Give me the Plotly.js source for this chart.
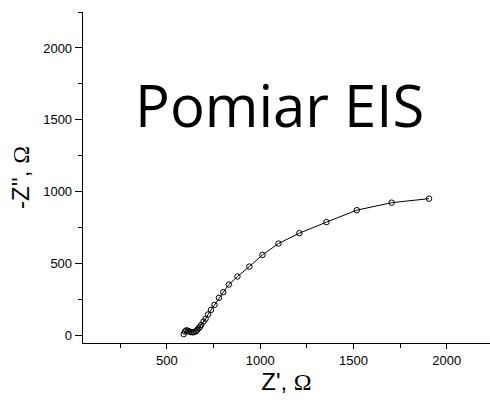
<!DOCTYPE html>
<html>
<head>
<meta charset="utf-8">
<script src="https://cdn.plot.ly/plotly-3.0.1.min.js"></script>
<style>html,body{margin:0;padding:0;background:#fff;}#chart{width:490px;height:405px;}</style>
</head>
<body>
<div id="chart"></div>
<script>
const zReal = [590, 597, 604, 612, 620, 628, 637, 646, 655, 663, 670, 677, 684, 696, 707, 720, 736, 755, 779, 802, 832, 878, 942, 1012, 1098, 1210, 1355, 1518, 1705, 1905];
const zImagNeg = [12, 30, 38, 35, 30, 26, 24, 26, 32, 42, 52, 63, 76, 99, 118, 148, 180, 215, 264, 303, 356, 412, 481, 562, 641, 713, 790, 873, 925, 953];
const xTickVals = [500, 1000, 1500, 2000];
const yTickVals = [0, 500, 1000, 1500, 2000];
const chartTitle = "Pomiar EIS";
const xTitle = "Z', <span style=\"font-family:'Liberation Serif','Times New Roman',serif\">Ω</span>";
const yTitle = "-Z'', <span style=\"font-family:'Liberation Serif','Times New Roman',serif\">Ω</span>";

const trace = {
  x: zReal, y: zImagNeg, type: 'scatter', mode: 'lines+markers',
  line: {color: '#000', width: 1},
  marker: {symbol: 'circle-open', size: 5.5, color: '#000', line: {width: 1, color: '#000'}},
  hoverinfo: 'none', showlegend: false
};

const axisFont = {family: "'Liberation Sans', Arial, sans-serif", size: 13, color: '#000'};
const layout = {
  width: 490, height: 405,
  margin: {l: 83, r: 0, t: 12, b: 62, pad: 0},
  paper_bgcolor: '#fff', plot_bgcolor: '#fff',
  showlegend: false,
  xaxis: {
    range: [50, 2232], showgrid: false, zeroline: false,
    showline: true, linecolor: '#000', linewidth: 1.3,
    ticks: 'outside', ticklen: 5, tickwidth: 1, tickcolor: '#000',
    tickvals: xTickVals, tickfont: axisFont,
    minor: {dtick: 250, tick0: 0, ticks: 'outside', ticklen: 4, tickwidth: 1, tickcolor: '#000', showgrid: false},
    title: {text: xTitle, font: {family: "'Liberation Sans', Arial, sans-serif", size: 24, color: '#000'}, standoff: 4}
  },
  yaxis: {
    range: [-50, 2250], showgrid: false, zeroline: false,
    showline: true, linecolor: '#000', linewidth: 1.3,
    ticks: 'outside', ticklen: 7, tickwidth: 1, tickcolor: '#000',
    tickvals: yTickVals, tickfont: axisFont,
    minor: {dtick: 250, tick0: 0, ticks: 'outside', ticklen: 4, tickwidth: 1, tickcolor: '#000', showgrid: false},
    title: {text: yTitle, font: {family: "'Liberation Sans', Arial, sans-serif", size: 24, color: '#000'}, standoff: 6}
  },
  annotations: [{
    text: chartTitle, xref: 'paper', yref: 'paper', x: 0.484, y: 0.722,
    xanchor: 'center', yanchor: 'middle', showarrow: false,
    font: {family: "'Open Sans', 'Noto Sans', sans-serif", size: 58, color: '#000'}
  }]
};

Plotly.newPlot('chart', [trace], layout, {displayModeBar: false, staticPlot: true});
</script>
</body>
</html>
